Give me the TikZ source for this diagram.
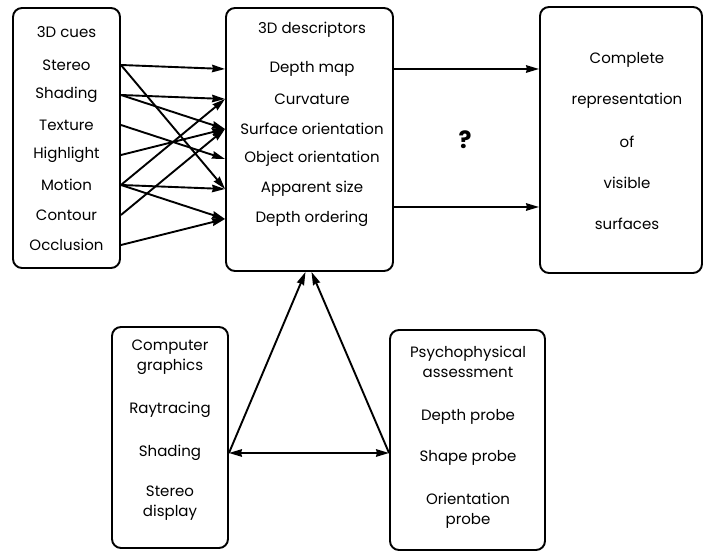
\documentclass[tikz,border=0pt]{standalone}
\usepackage{fontspec}
\setmainfont{Poppins}
\usetikzlibrary{arrows.meta, positioning}

\begin{document}
\begin{tikzpicture}[
            x = 1pt, y = 1pt, % one unit per pixel of the sketch
            > = {Stealth[length=13pt, width=7.5pt, inset=1pt]}, % arrow head style
            line width = 1.9pt, % line style
            node distance = 30pt, % distance between rows
            font = \fontsize{15}{20}\selectfont
        ]

        \tikzstyle{panel}=[
            draw = black,
            rounded corners = 9pt,
            inner sep = 0pt
        ]
        \tikzstyle{row}=[inner sep = 1pt, align = center]

        \useasboundingbox (0,0) rectangle (704,553);

        % the boxes
        \node[panel, minimum width = 107pt, minimum height = 260pt] (cues) at (66.5,415) {};
        \node[panel, minimum width = 167pt, minimum height = 263pt] (desc) at (309.5,413.5) {};
        \node[panel, minimum width = 162pt, minimum height = 266pt] (complete) at (621,413) {};
        \node[panel, minimum width = 116pt, minimum height = 221pt] (cg) at (170,115.5) {};
        \node[panel, minimum width = 155pt, minimum height = 220pt] (psych) at (467.5,113) {};

        % 3D cues
        \node[row] (cuestitle) at (66.5,521) {3D cues};
        \node[row] (stereo) at (66.5,488) {Stereo};
        \node[row] (shading) [below of = stereo] {Shading};
        \node[row] (texture) [below of = shading] {Texture};
        \node[row] (highlight) [below of = texture] {Highlight};
        \node[row] (motion) [below of = highlight] {Motion};
        \node[row] (contour) [below of = motion] {Contour};
        \node[row] (occlusion) [below of = contour] {Occlusion};

        % 3D descriptors
        \node[row] (desctitle) at (312,523) {3D descriptors};
        \node[row] (depthmap) at (312,484) {Depth map};
        \node[row] (curvature) [below of = depthmap] {Curvature};
        \node[row] (surface) [below of = curvature] {Surface orientation};
        \node[row] (objorient) [below of = surface] {Object orientation};
        \node[row] (appsize) [below of = objorient] {Apparent size};
        \node[row] (depthorder) [below of = appsize] {Depth ordering};

        % complete representation
        \node[row] (rep1) at (627,493) {Complete};
        \node[row] (rep2) [node distance = 41pt, below of = rep1] {representation};
        \node[row] (rep3) [node distance = 41pt, below of = rep2] {of};
        \node[row] (rep4) [node distance = 41pt, below of = rep3] {visible};
        \node[row] (rep5) [node distance = 41pt, below of = rep4] {surfaces};

        \node[row, font = \fontsize{24}{28}\selectfont\bfseries] (question) at (465,413) {?};

        % computer graphics
        \node[row] (cgtitle) at (170,196) {Computer\\graphics};
        \node[row] (raytracing) at (170,143) {Raytracing};
        \node[row] (cgshading) at (170,100) {Shading};
        \node[row] (stereodisp) at (170,50) {Stereo\\display};

        % psychophysical assessment
        \node[row] (psychtitle) at (468,191) {Psychophysical\\assessment};
        \node[row] (depthprobe) at (468,136) {Depth probe};
        \node[row] (shapeprobe) at (468,95) {Shape probe};
        \node[row] (orientprobe) at (468,42) {Orientation\\probe};

        % cues to descriptors
        \draw[->] (stereo -| cues.east) -- (depthmap -| desc.west);
        \draw[->] (stereo -| cues.east) -- (appsize -| desc.west);
        \draw[->] (shading -| cues.east) -- (curvature -| desc.west);
        \draw[->] (shading -| cues.east) -- (surface -| desc.west);
        \draw[->] (texture -| cues.east) -- (objorient -| desc.west);
        \draw[->] (highlight -| cues.east) -- (surface -| desc.west);
        \draw[->] (motion -| cues.east) -- (curvature -| desc.west);
        \draw[->] (motion -| cues.east) -- (appsize -| desc.west);
        \draw[->] (motion -| cues.east) -- (depthorder -| desc.west);
        \draw[->] (contour -| cues.east) -- (surface -| desc.west);
        \draw[->] (occlusion -| cues.east) -- (depthorder -| desc.west);

        % descriptors to complete representation
        \coordinate (lowout) at ([yshift=-67.5pt]desc.east);
        \draw[->] (depthmap -| desc.east) -- (depthmap -| complete.west);
        \draw[->] (lowout) -- (lowout -| complete.west);

        % graphics and assessment
        \draw[->] (cgshading -| cg.east) -- ([xshift=-4pt]desc.south);
        \draw[->] (cgshading -| psych.west) -- ([xshift=2pt]desc.south);
        \draw[<->] (cgshading -| cg.east) -- (cgshading -| psych.west);
    \end{tikzpicture}
\end{document}
